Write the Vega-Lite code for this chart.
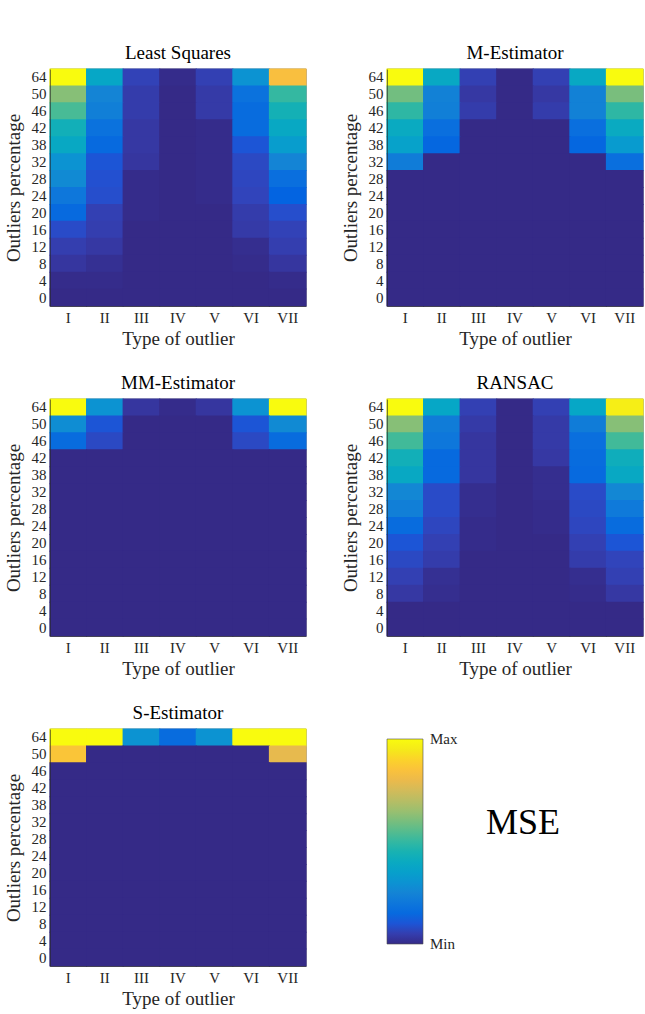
{
  "$schema": "https://vega.github.io/schema/vega-lite/v6.json",
  "background": "white",
  "padding": {"left": 3, "top": 44, "right": 0, "bottom": 0},
  "data": {
    "values": [
      {"m": "Least Squares", "p": 64, "t": "I", "v": 1},
      {"m": "Least Squares", "p": 64, "t": "II", "v": 0.38},
      {"m": "Least Squares", "p": 64, "t": "III", "v": 0.06},
      {"m": "Least Squares", "p": 64, "t": "IV", "v": 0.005},
      {"m": "Least Squares", "p": 64, "t": "V", "v": 0.055},
      {"m": "Least Squares", "p": 64, "t": "VI", "v": 0.3},
      {"m": "Least Squares", "p": 64, "t": "VII", "v": 0.84},
      {"m": "Least Squares", "p": 50, "t": "I", "v": 0.62},
      {"m": "Least Squares", "p": 50, "t": "II", "v": 0.25},
      {"m": "Least Squares", "p": 50, "t": "III", "v": 0.045},
      {"m": "Least Squares", "p": 50, "t": "IV", "v": 0},
      {"m": "Least Squares", "p": 50, "t": "V", "v": 0.04},
      {"m": "Least Squares", "p": 50, "t": "VI", "v": 0.18},
      {"m": "Least Squares", "p": 50, "t": "VII", "v": 0.5},
      {"m": "Least Squares", "p": 46, "t": "I", "v": 0.53},
      {"m": "Least Squares", "p": 46, "t": "II", "v": 0.23},
      {"m": "Least Squares", "p": 46, "t": "III", "v": 0.045},
      {"m": "Least Squares", "p": 46, "t": "IV", "v": 0},
      {"m": "Least Squares", "p": 46, "t": "V", "v": 0.04},
      {"m": "Least Squares", "p": 46, "t": "VI", "v": 0.16},
      {"m": "Least Squares", "p": 46, "t": "VII", "v": 0.44},
      {"m": "Least Squares", "p": 42, "t": "I", "v": 0.43},
      {"m": "Least Squares", "p": 42, "t": "II", "v": 0.18},
      {"m": "Least Squares", "p": 42, "t": "III", "v": 0.035},
      {"m": "Least Squares", "p": 42, "t": "IV", "v": 0},
      {"m": "Least Squares", "p": 42, "t": "V", "v": 0.005},
      {"m": "Least Squares", "p": 42, "t": "VI", "v": 0.16},
      {"m": "Least Squares", "p": 42, "t": "VII", "v": 0.39},
      {"m": "Least Squares", "p": 38, "t": "I", "v": 0.39},
      {"m": "Least Squares", "p": 38, "t": "II", "v": 0.15},
      {"m": "Least Squares", "p": 38, "t": "III", "v": 0.035},
      {"m": "Least Squares", "p": 38, "t": "IV", "v": 0},
      {"m": "Least Squares", "p": 38, "t": "V", "v": 0.005},
      {"m": "Least Squares", "p": 38, "t": "VI", "v": 0.1},
      {"m": "Least Squares", "p": 38, "t": "VII", "v": 0.34},
      {"m": "Least Squares", "p": 32, "t": "I", "v": 0.3},
      {"m": "Least Squares", "p": 32, "t": "II", "v": 0.1},
      {"m": "Least Squares", "p": 32, "t": "III", "v": 0.03},
      {"m": "Least Squares", "p": 32, "t": "IV", "v": 0},
      {"m": "Least Squares", "p": 32, "t": "V", "v": 0.005},
      {"m": "Least Squares", "p": 32, "t": "VI", "v": 0.075},
      {"m": "Least Squares", "p": 32, "t": "VII", "v": 0.25},
      {"m": "Least Squares", "p": 28, "t": "I", "v": 0.27},
      {"m": "Least Squares", "p": 28, "t": "II", "v": 0.09},
      {"m": "Least Squares", "p": 28, "t": "III", "v": 0.005},
      {"m": "Least Squares", "p": 28, "t": "IV", "v": 0},
      {"m": "Least Squares", "p": 28, "t": "V", "v": 0.005},
      {"m": "Least Squares", "p": 28, "t": "VI", "v": 0.07},
      {"m": "Least Squares", "p": 28, "t": "VII", "v": 0.17},
      {"m": "Least Squares", "p": 24, "t": "I", "v": 0.2},
      {"m": "Least Squares", "p": 24, "t": "II", "v": 0.085},
      {"m": "Least Squares", "p": 24, "t": "III", "v": 0.005},
      {"m": "Least Squares", "p": 24, "t": "IV", "v": 0},
      {"m": "Least Squares", "p": 24, "t": "V", "v": 0.005},
      {"m": "Least Squares", "p": 24, "t": "VI", "v": 0.065},
      {"m": "Least Squares", "p": 24, "t": "VII", "v": 0.13},
      {"m": "Least Squares", "p": 20, "t": "I", "v": 0.15},
      {"m": "Least Squares", "p": 20, "t": "II", "v": 0.055},
      {"m": "Least Squares", "p": 20, "t": "III", "v": 0.005},
      {"m": "Least Squares", "p": 20, "t": "IV", "v": 0},
      {"m": "Least Squares", "p": 20, "t": "V", "v": 0},
      {"m": "Least Squares", "p": 20, "t": "VI", "v": 0.045},
      {"m": "Least Squares", "p": 20, "t": "VII", "v": 0.085},
      {"m": "Least Squares", "p": 16, "t": "I", "v": 0.08},
      {"m": "Least Squares", "p": 16, "t": "II", "v": 0.05},
      {"m": "Least Squares", "p": 16, "t": "III", "v": 0},
      {"m": "Least Squares", "p": 16, "t": "IV", "v": 0},
      {"m": "Least Squares", "p": 16, "t": "V", "v": 0},
      {"m": "Least Squares", "p": 16, "t": "VI", "v": 0.04},
      {"m": "Least Squares", "p": 16, "t": "VII", "v": 0.06},
      {"m": "Least Squares", "p": 12, "t": "I", "v": 0.05},
      {"m": "Least Squares", "p": 12, "t": "II", "v": 0.035},
      {"m": "Least Squares", "p": 12, "t": "III", "v": 0},
      {"m": "Least Squares", "p": 12, "t": "IV", "v": 0},
      {"m": "Least Squares", "p": 12, "t": "V", "v": 0},
      {"m": "Least Squares", "p": 12, "t": "VI", "v": 0.01},
      {"m": "Least Squares", "p": 12, "t": "VII", "v": 0.05},
      {"m": "Least Squares", "p": 8, "t": "I", "v": 0.03},
      {"m": "Least Squares", "p": 8, "t": "II", "v": 0.015},
      {"m": "Least Squares", "p": 8, "t": "III", "v": 0},
      {"m": "Least Squares", "p": 8, "t": "IV", "v": 0},
      {"m": "Least Squares", "p": 8, "t": "V", "v": 0},
      {"m": "Least Squares", "p": 8, "t": "VI", "v": 0.005},
      {"m": "Least Squares", "p": 8, "t": "VII", "v": 0.03},
      {"m": "Least Squares", "p": 4, "t": "I", "v": 0.005},
      {"m": "Least Squares", "p": 4, "t": "II", "v": 0.005},
      {"m": "Least Squares", "p": 4, "t": "III", "v": 0},
      {"m": "Least Squares", "p": 4, "t": "IV", "v": 0},
      {"m": "Least Squares", "p": 4, "t": "V", "v": 0},
      {"m": "Least Squares", "p": 4, "t": "VI", "v": 0},
      {"m": "Least Squares", "p": 4, "t": "VII", "v": 0.005},
      {"m": "Least Squares", "p": 0, "t": "I", "v": 0},
      {"m": "Least Squares", "p": 0, "t": "II", "v": 0},
      {"m": "Least Squares", "p": 0, "t": "III", "v": 0},
      {"m": "Least Squares", "p": 0, "t": "IV", "v": 0},
      {"m": "Least Squares", "p": 0, "t": "V", "v": 0},
      {"m": "Least Squares", "p": 0, "t": "VI", "v": 0},
      {"m": "Least Squares", "p": 0, "t": "VII", "v": 0},

      {"m": "M-Estimator", "p": 64, "t": "I", "v": 1},
      {"m": "M-Estimator", "p": 64, "t": "II", "v": 0.39},
      {"m": "M-Estimator", "p": 64, "t": "III", "v": 0.055},
      {"m": "M-Estimator", "p": 64, "t": "IV", "v": 0},
      {"m": "M-Estimator", "p": 64, "t": "V", "v": 0.055},
      {"m": "M-Estimator", "p": 64, "t": "VI", "v": 0.39},
      {"m": "M-Estimator", "p": 64, "t": "VII", "v": 1},
      {"m": "M-Estimator", "p": 50, "t": "I", "v": 0.59},
      {"m": "M-Estimator", "p": 50, "t": "II", "v": 0.24},
      {"m": "M-Estimator", "p": 50, "t": "III", "v": 0.035},
      {"m": "M-Estimator", "p": 50, "t": "IV", "v": 0},
      {"m": "M-Estimator", "p": 50, "t": "V", "v": 0.035},
      {"m": "M-Estimator", "p": 50, "t": "VI", "v": 0.24},
      {"m": "M-Estimator", "p": 50, "t": "VII", "v": 0.6},
      {"m": "M-Estimator", "p": 46, "t": "I", "v": 0.49},
      {"m": "M-Estimator", "p": 46, "t": "II", "v": 0.23},
      {"m": "M-Estimator", "p": 46, "t": "III", "v": 0.045},
      {"m": "M-Estimator", "p": 46, "t": "IV", "v": 0},
      {"m": "M-Estimator", "p": 46, "t": "V", "v": 0.045},
      {"m": "M-Estimator", "p": 46, "t": "VI", "v": 0.24},
      {"m": "M-Estimator", "p": 46, "t": "VII", "v": 0.49},
      {"m": "M-Estimator", "p": 42, "t": "I", "v": 0.4},
      {"m": "M-Estimator", "p": 42, "t": "II", "v": 0.17},
      {"m": "M-Estimator", "p": 42, "t": "III", "v": 0},
      {"m": "M-Estimator", "p": 42, "t": "IV", "v": 0},
      {"m": "M-Estimator", "p": 42, "t": "V", "v": 0},
      {"m": "M-Estimator", "p": 42, "t": "VI", "v": 0.17},
      {"m": "M-Estimator", "p": 42, "t": "VII", "v": 0.4},
      {"m": "M-Estimator", "p": 38, "t": "I", "v": 0.36},
      {"m": "M-Estimator", "p": 38, "t": "II", "v": 0.14},
      {"m": "M-Estimator", "p": 38, "t": "III", "v": 0},
      {"m": "M-Estimator", "p": 38, "t": "IV", "v": 0},
      {"m": "M-Estimator", "p": 38, "t": "V", "v": 0},
      {"m": "M-Estimator", "p": 38, "t": "VI", "v": 0.14},
      {"m": "M-Estimator", "p": 38, "t": "VII", "v": 0.33},
      {"m": "M-Estimator", "p": 32, "t": "I", "v": 0.22},
      {"m": "M-Estimator", "p": 32, "t": "II", "v": 0},
      {"m": "M-Estimator", "p": 32, "t": "III", "v": 0},
      {"m": "M-Estimator", "p": 32, "t": "IV", "v": 0},
      {"m": "M-Estimator", "p": 32, "t": "V", "v": 0},
      {"m": "M-Estimator", "p": 32, "t": "VI", "v": 0},
      {"m": "M-Estimator", "p": 32, "t": "VII", "v": 0.17},
      {"m": "M-Estimator", "p": 28, "t": "I", "v": 0},
      {"m": "M-Estimator", "p": 28, "t": "II", "v": 0},
      {"m": "M-Estimator", "p": 28, "t": "III", "v": 0},
      {"m": "M-Estimator", "p": 28, "t": "IV", "v": 0},
      {"m": "M-Estimator", "p": 28, "t": "V", "v": 0},
      {"m": "M-Estimator", "p": 28, "t": "VI", "v": 0},
      {"m": "M-Estimator", "p": 28, "t": "VII", "v": 0},
      {"m": "M-Estimator", "p": 24, "t": "I", "v": 0},
      {"m": "M-Estimator", "p": 24, "t": "II", "v": 0},
      {"m": "M-Estimator", "p": 24, "t": "III", "v": 0},
      {"m": "M-Estimator", "p": 24, "t": "IV", "v": 0},
      {"m": "M-Estimator", "p": 24, "t": "V", "v": 0},
      {"m": "M-Estimator", "p": 24, "t": "VI", "v": 0},
      {"m": "M-Estimator", "p": 24, "t": "VII", "v": 0},
      {"m": "M-Estimator", "p": 20, "t": "I", "v": 0},
      {"m": "M-Estimator", "p": 20, "t": "II", "v": 0},
      {"m": "M-Estimator", "p": 20, "t": "III", "v": 0},
      {"m": "M-Estimator", "p": 20, "t": "IV", "v": 0},
      {"m": "M-Estimator", "p": 20, "t": "V", "v": 0},
      {"m": "M-Estimator", "p": 20, "t": "VI", "v": 0},
      {"m": "M-Estimator", "p": 20, "t": "VII", "v": 0},
      {"m": "M-Estimator", "p": 16, "t": "I", "v": 0},
      {"m": "M-Estimator", "p": 16, "t": "II", "v": 0},
      {"m": "M-Estimator", "p": 16, "t": "III", "v": 0},
      {"m": "M-Estimator", "p": 16, "t": "IV", "v": 0},
      {"m": "M-Estimator", "p": 16, "t": "V", "v": 0},
      {"m": "M-Estimator", "p": 16, "t": "VI", "v": 0},
      {"m": "M-Estimator", "p": 16, "t": "VII", "v": 0},
      {"m": "M-Estimator", "p": 12, "t": "I", "v": 0},
      {"m": "M-Estimator", "p": 12, "t": "II", "v": 0},
      {"m": "M-Estimator", "p": 12, "t": "III", "v": 0},
      {"m": "M-Estimator", "p": 12, "t": "IV", "v": 0},
      {"m": "M-Estimator", "p": 12, "t": "V", "v": 0},
      {"m": "M-Estimator", "p": 12, "t": "VI", "v": 0},
      {"m": "M-Estimator", "p": 12, "t": "VII", "v": 0},
      {"m": "M-Estimator", "p": 8, "t": "I", "v": 0},
      {"m": "M-Estimator", "p": 8, "t": "II", "v": 0},
      {"m": "M-Estimator", "p": 8, "t": "III", "v": 0},
      {"m": "M-Estimator", "p": 8, "t": "IV", "v": 0},
      {"m": "M-Estimator", "p": 8, "t": "V", "v": 0},
      {"m": "M-Estimator", "p": 8, "t": "VI", "v": 0},
      {"m": "M-Estimator", "p": 8, "t": "VII", "v": 0},
      {"m": "M-Estimator", "p": 4, "t": "I", "v": 0},
      {"m": "M-Estimator", "p": 4, "t": "II", "v": 0},
      {"m": "M-Estimator", "p": 4, "t": "III", "v": 0},
      {"m": "M-Estimator", "p": 4, "t": "IV", "v": 0},
      {"m": "M-Estimator", "p": 4, "t": "V", "v": 0},
      {"m": "M-Estimator", "p": 4, "t": "VI", "v": 0},
      {"m": "M-Estimator", "p": 4, "t": "VII", "v": 0},
      {"m": "M-Estimator", "p": 0, "t": "I", "v": 0},
      {"m": "M-Estimator", "p": 0, "t": "II", "v": 0},
      {"m": "M-Estimator", "p": 0, "t": "III", "v": 0},
      {"m": "M-Estimator", "p": 0, "t": "IV", "v": 0},
      {"m": "M-Estimator", "p": 0, "t": "V", "v": 0},
      {"m": "M-Estimator", "p": 0, "t": "VI", "v": 0},
      {"m": "M-Estimator", "p": 0, "t": "VII", "v": 0},

      {"m": "MM-Estimator", "p": 64, "t": "I", "v": 1},
      {"m": "MM-Estimator", "p": 64, "t": "II", "v": 0.3},
      {"m": "MM-Estimator", "p": 64, "t": "III", "v": 0.03},
      {"m": "MM-Estimator", "p": 64, "t": "IV", "v": 0.005},
      {"m": "MM-Estimator", "p": 64, "t": "V", "v": 0.03},
      {"m": "MM-Estimator", "p": 64, "t": "VI", "v": 0.3},
      {"m": "MM-Estimator", "p": 64, "t": "VII", "v": 1},
      {"m": "MM-Estimator", "p": 50, "t": "I", "v": 0.28},
      {"m": "MM-Estimator", "p": 50, "t": "II", "v": 0.1},
      {"m": "MM-Estimator", "p": 50, "t": "III", "v": 0},
      {"m": "MM-Estimator", "p": 50, "t": "IV", "v": 0},
      {"m": "MM-Estimator", "p": 50, "t": "V", "v": 0},
      {"m": "MM-Estimator", "p": 50, "t": "VI", "v": 0.1},
      {"m": "MM-Estimator", "p": 50, "t": "VII", "v": 0.27},
      {"m": "MM-Estimator", "p": 46, "t": "I", "v": 0.16},
      {"m": "MM-Estimator", "p": 46, "t": "II", "v": 0.075},
      {"m": "MM-Estimator", "p": 46, "t": "III", "v": 0},
      {"m": "MM-Estimator", "p": 46, "t": "IV", "v": 0},
      {"m": "MM-Estimator", "p": 46, "t": "V", "v": 0},
      {"m": "MM-Estimator", "p": 46, "t": "VI", "v": 0.075},
      {"m": "MM-Estimator", "p": 46, "t": "VII", "v": 0.16},
      {"m": "MM-Estimator", "p": 42, "t": "I", "v": 0},
      {"m": "MM-Estimator", "p": 42, "t": "II", "v": 0},
      {"m": "MM-Estimator", "p": 42, "t": "III", "v": 0},
      {"m": "MM-Estimator", "p": 42, "t": "IV", "v": 0},
      {"m": "MM-Estimator", "p": 42, "t": "V", "v": 0},
      {"m": "MM-Estimator", "p": 42, "t": "VI", "v": 0},
      {"m": "MM-Estimator", "p": 42, "t": "VII", "v": 0},
      {"m": "MM-Estimator", "p": 38, "t": "I", "v": 0},
      {"m": "MM-Estimator", "p": 38, "t": "II", "v": 0},
      {"m": "MM-Estimator", "p": 38, "t": "III", "v": 0},
      {"m": "MM-Estimator", "p": 38, "t": "IV", "v": 0},
      {"m": "MM-Estimator", "p": 38, "t": "V", "v": 0},
      {"m": "MM-Estimator", "p": 38, "t": "VI", "v": 0},
      {"m": "MM-Estimator", "p": 38, "t": "VII", "v": 0},
      {"m": "MM-Estimator", "p": 32, "t": "I", "v": 0},
      {"m": "MM-Estimator", "p": 32, "t": "II", "v": 0},
      {"m": "MM-Estimator", "p": 32, "t": "III", "v": 0},
      {"m": "MM-Estimator", "p": 32, "t": "IV", "v": 0},
      {"m": "MM-Estimator", "p": 32, "t": "V", "v": 0},
      {"m": "MM-Estimator", "p": 32, "t": "VI", "v": 0},
      {"m": "MM-Estimator", "p": 32, "t": "VII", "v": 0},
      {"m": "MM-Estimator", "p": 28, "t": "I", "v": 0},
      {"m": "MM-Estimator", "p": 28, "t": "II", "v": 0},
      {"m": "MM-Estimator", "p": 28, "t": "III", "v": 0},
      {"m": "MM-Estimator", "p": 28, "t": "IV", "v": 0},
      {"m": "MM-Estimator", "p": 28, "t": "V", "v": 0},
      {"m": "MM-Estimator", "p": 28, "t": "VI", "v": 0},
      {"m": "MM-Estimator", "p": 28, "t": "VII", "v": 0},
      {"m": "MM-Estimator", "p": 24, "t": "I", "v": 0},
      {"m": "MM-Estimator", "p": 24, "t": "II", "v": 0},
      {"m": "MM-Estimator", "p": 24, "t": "III", "v": 0},
      {"m": "MM-Estimator", "p": 24, "t": "IV", "v": 0},
      {"m": "MM-Estimator", "p": 24, "t": "V", "v": 0},
      {"m": "MM-Estimator", "p": 24, "t": "VI", "v": 0},
      {"m": "MM-Estimator", "p": 24, "t": "VII", "v": 0},
      {"m": "MM-Estimator", "p": 20, "t": "I", "v": 0},
      {"m": "MM-Estimator", "p": 20, "t": "II", "v": 0},
      {"m": "MM-Estimator", "p": 20, "t": "III", "v": 0},
      {"m": "MM-Estimator", "p": 20, "t": "IV", "v": 0},
      {"m": "MM-Estimator", "p": 20, "t": "V", "v": 0},
      {"m": "MM-Estimator", "p": 20, "t": "VI", "v": 0},
      {"m": "MM-Estimator", "p": 20, "t": "VII", "v": 0},
      {"m": "MM-Estimator", "p": 16, "t": "I", "v": 0},
      {"m": "MM-Estimator", "p": 16, "t": "II", "v": 0},
      {"m": "MM-Estimator", "p": 16, "t": "III", "v": 0},
      {"m": "MM-Estimator", "p": 16, "t": "IV", "v": 0},
      {"m": "MM-Estimator", "p": 16, "t": "V", "v": 0},
      {"m": "MM-Estimator", "p": 16, "t": "VI", "v": 0},
      {"m": "MM-Estimator", "p": 16, "t": "VII", "v": 0},
      {"m": "MM-Estimator", "p": 12, "t": "I", "v": 0},
      {"m": "MM-Estimator", "p": 12, "t": "II", "v": 0},
      {"m": "MM-Estimator", "p": 12, "t": "III", "v": 0},
      {"m": "MM-Estimator", "p": 12, "t": "IV", "v": 0},
      {"m": "MM-Estimator", "p": 12, "t": "V", "v": 0},
      {"m": "MM-Estimator", "p": 12, "t": "VI", "v": 0},
      {"m": "MM-Estimator", "p": 12, "t": "VII", "v": 0},
      {"m": "MM-Estimator", "p": 8, "t": "I", "v": 0},
      {"m": "MM-Estimator", "p": 8, "t": "II", "v": 0},
      {"m": "MM-Estimator", "p": 8, "t": "III", "v": 0},
      {"m": "MM-Estimator", "p": 8, "t": "IV", "v": 0},
      {"m": "MM-Estimator", "p": 8, "t": "V", "v": 0},
      {"m": "MM-Estimator", "p": 8, "t": "VI", "v": 0},
      {"m": "MM-Estimator", "p": 8, "t": "VII", "v": 0},
      {"m": "MM-Estimator", "p": 4, "t": "I", "v": 0},
      {"m": "MM-Estimator", "p": 4, "t": "II", "v": 0},
      {"m": "MM-Estimator", "p": 4, "t": "III", "v": 0},
      {"m": "MM-Estimator", "p": 4, "t": "IV", "v": 0},
      {"m": "MM-Estimator", "p": 4, "t": "V", "v": 0},
      {"m": "MM-Estimator", "p": 4, "t": "VI", "v": 0},
      {"m": "MM-Estimator", "p": 4, "t": "VII", "v": 0},
      {"m": "MM-Estimator", "p": 0, "t": "I", "v": 0},
      {"m": "MM-Estimator", "p": 0, "t": "II", "v": 0},
      {"m": "MM-Estimator", "p": 0, "t": "III", "v": 0},
      {"m": "MM-Estimator", "p": 0, "t": "IV", "v": 0},
      {"m": "MM-Estimator", "p": 0, "t": "V", "v": 0},
      {"m": "MM-Estimator", "p": 0, "t": "VI", "v": 0},
      {"m": "MM-Estimator", "p": 0, "t": "VII", "v": 0},

      {"m": "RANSAC", "p": 64, "t": "I", "v": 1},
      {"m": "RANSAC", "p": 64, "t": "II", "v": 0.38},
      {"m": "RANSAC", "p": 64, "t": "III", "v": 0.055},
      {"m": "RANSAC", "p": 64, "t": "IV", "v": 0},
      {"m": "RANSAC", "p": 64, "t": "V", "v": 0.055},
      {"m": "RANSAC", "p": 64, "t": "VI", "v": 0.38},
      {"m": "RANSAC", "p": 64, "t": "VII", "v": 0.96},
      {"m": "RANSAC", "p": 50, "t": "I", "v": 0.62},
      {"m": "RANSAC", "p": 50, "t": "II", "v": 0.22},
      {"m": "RANSAC", "p": 50, "t": "III", "v": 0.04},
      {"m": "RANSAC", "p": 50, "t": "IV", "v": 0},
      {"m": "RANSAC", "p": 50, "t": "V", "v": 0.04},
      {"m": "RANSAC", "p": 50, "t": "VI", "v": 0.22},
      {"m": "RANSAC", "p": 50, "t": "VII", "v": 0.62},
      {"m": "RANSAC", "p": 46, "t": "I", "v": 0.52},
      {"m": "RANSAC", "p": 46, "t": "II", "v": 0.2},
      {"m": "RANSAC", "p": 46, "t": "III", "v": 0.03},
      {"m": "RANSAC", "p": 46, "t": "IV", "v": 0},
      {"m": "RANSAC", "p": 46, "t": "V", "v": 0.04},
      {"m": "RANSAC", "p": 46, "t": "VI", "v": 0.17},
      {"m": "RANSAC", "p": 46, "t": "VII", "v": 0.52},
      {"m": "RANSAC", "p": 42, "t": "I", "v": 0.43},
      {"m": "RANSAC", "p": 42, "t": "II", "v": 0.15},
      {"m": "RANSAC", "p": 42, "t": "III", "v": 0.03},
      {"m": "RANSAC", "p": 42, "t": "IV", "v": 0},
      {"m": "RANSAC", "p": 42, "t": "V", "v": 0.035},
      {"m": "RANSAC", "p": 42, "t": "VI", "v": 0.16},
      {"m": "RANSAC", "p": 42, "t": "VII", "v": 0.42},
      {"m": "RANSAC", "p": 38, "t": "I", "v": 0.39},
      {"m": "RANSAC", "p": 38, "t": "II", "v": 0.15},
      {"m": "RANSAC", "p": 38, "t": "III", "v": 0.03},
      {"m": "RANSAC", "p": 38, "t": "IV", "v": 0},
      {"m": "RANSAC", "p": 38, "t": "V", "v": 0.01},
      {"m": "RANSAC", "p": 38, "t": "VI", "v": 0.15},
      {"m": "RANSAC", "p": 38, "t": "VII", "v": 0.39},
      {"m": "RANSAC", "p": 32, "t": "I", "v": 0.26},
      {"m": "RANSAC", "p": 32, "t": "II", "v": 0.08},
      {"m": "RANSAC", "p": 32, "t": "III", "v": 0.01},
      {"m": "RANSAC", "p": 32, "t": "IV", "v": 0},
      {"m": "RANSAC", "p": 32, "t": "V", "v": 0.01},
      {"m": "RANSAC", "p": 32, "t": "VI", "v": 0.08},
      {"m": "RANSAC", "p": 32, "t": "VII", "v": 0.26},
      {"m": "RANSAC", "p": 28, "t": "I", "v": 0.23},
      {"m": "RANSAC", "p": 28, "t": "II", "v": 0.08},
      {"m": "RANSAC", "p": 28, "t": "III", "v": 0.01},
      {"m": "RANSAC", "p": 28, "t": "IV", "v": 0},
      {"m": "RANSAC", "p": 28, "t": "V", "v": 0.005},
      {"m": "RANSAC", "p": 28, "t": "VI", "v": 0.075},
      {"m": "RANSAC", "p": 28, "t": "VII", "v": 0.21},
      {"m": "RANSAC", "p": 24, "t": "I", "v": 0.16},
      {"m": "RANSAC", "p": 24, "t": "II", "v": 0.07},
      {"m": "RANSAC", "p": 24, "t": "III", "v": 0.005},
      {"m": "RANSAC", "p": 24, "t": "IV", "v": 0},
      {"m": "RANSAC", "p": 24, "t": "V", "v": 0.005},
      {"m": "RANSAC", "p": 24, "t": "VI", "v": 0.07},
      {"m": "RANSAC", "p": 24, "t": "VII", "v": 0.16},
      {"m": "RANSAC", "p": 20, "t": "I", "v": 0.1},
      {"m": "RANSAC", "p": 20, "t": "II", "v": 0.055},
      {"m": "RANSAC", "p": 20, "t": "III", "v": 0.005},
      {"m": "RANSAC", "p": 20, "t": "IV", "v": 0},
      {"m": "RANSAC", "p": 20, "t": "V", "v": 0},
      {"m": "RANSAC", "p": 20, "t": "VI", "v": 0.055},
      {"m": "RANSAC", "p": 20, "t": "VII", "v": 0.1},
      {"m": "RANSAC", "p": 16, "t": "I", "v": 0.075},
      {"m": "RANSAC", "p": 16, "t": "II", "v": 0.045},
      {"m": "RANSAC", "p": 16, "t": "III", "v": 0},
      {"m": "RANSAC", "p": 16, "t": "IV", "v": 0},
      {"m": "RANSAC", "p": 16, "t": "V", "v": 0},
      {"m": "RANSAC", "p": 16, "t": "VI", "v": 0.045},
      {"m": "RANSAC", "p": 16, "t": "VII", "v": 0.065},
      {"m": "RANSAC", "p": 12, "t": "I", "v": 0.055},
      {"m": "RANSAC", "p": 12, "t": "II", "v": 0.015},
      {"m": "RANSAC", "p": 12, "t": "III", "v": 0},
      {"m": "RANSAC", "p": 12, "t": "IV", "v": 0},
      {"m": "RANSAC", "p": 12, "t": "V", "v": 0},
      {"m": "RANSAC", "p": 12, "t": "VI", "v": 0.01},
      {"m": "RANSAC", "p": 12, "t": "VII", "v": 0.055},
      {"m": "RANSAC", "p": 8, "t": "I", "v": 0.035},
      {"m": "RANSAC", "p": 8, "t": "II", "v": 0.01},
      {"m": "RANSAC", "p": 8, "t": "III", "v": 0},
      {"m": "RANSAC", "p": 8, "t": "IV", "v": 0},
      {"m": "RANSAC", "p": 8, "t": "V", "v": 0},
      {"m": "RANSAC", "p": 8, "t": "VI", "v": 0.005},
      {"m": "RANSAC", "p": 8, "t": "VII", "v": 0.035},
      {"m": "RANSAC", "p": 4, "t": "I", "v": 0},
      {"m": "RANSAC", "p": 4, "t": "II", "v": 0},
      {"m": "RANSAC", "p": 4, "t": "III", "v": 0},
      {"m": "RANSAC", "p": 4, "t": "IV", "v": 0},
      {"m": "RANSAC", "p": 4, "t": "V", "v": 0},
      {"m": "RANSAC", "p": 4, "t": "VI", "v": 0},
      {"m": "RANSAC", "p": 4, "t": "VII", "v": 0},
      {"m": "RANSAC", "p": 0, "t": "I", "v": 0},
      {"m": "RANSAC", "p": 0, "t": "II", "v": 0},
      {"m": "RANSAC", "p": 0, "t": "III", "v": 0},
      {"m": "RANSAC", "p": 0, "t": "IV", "v": 0},
      {"m": "RANSAC", "p": 0, "t": "V", "v": 0},
      {"m": "RANSAC", "p": 0, "t": "VI", "v": 0},
      {"m": "RANSAC", "p": 0, "t": "VII", "v": 0},

      {"m": "S-Estimator", "p": 64, "t": "I", "v": 1},
      {"m": "S-Estimator", "p": 64, "t": "II", "v": 1},
      {"m": "S-Estimator", "p": 64, "t": "III", "v": 0.3},
      {"m": "S-Estimator", "p": 64, "t": "IV", "v": 0.16},
      {"m": "S-Estimator", "p": 64, "t": "V", "v": 0.3},
      {"m": "S-Estimator", "p": 64, "t": "VI", "v": 1},
      {"m": "S-Estimator", "p": 64, "t": "VII", "v": 1},
      {"m": "S-Estimator", "p": 50, "t": "I", "v": 0.86},
      {"m": "S-Estimator", "p": 50, "t": "II", "v": 0},
      {"m": "S-Estimator", "p": 50, "t": "III", "v": 0},
      {"m": "S-Estimator", "p": 50, "t": "IV", "v": 0},
      {"m": "S-Estimator", "p": 50, "t": "V", "v": 0},
      {"m": "S-Estimator", "p": 50, "t": "VI", "v": 0},
      {"m": "S-Estimator", "p": 50, "t": "VII", "v": 0.79},
      {"m": "S-Estimator", "p": 46, "t": "I", "v": 0},
      {"m": "S-Estimator", "p": 46, "t": "II", "v": 0},
      {"m": "S-Estimator", "p": 46, "t": "III", "v": 0},
      {"m": "S-Estimator", "p": 46, "t": "IV", "v": 0},
      {"m": "S-Estimator", "p": 46, "t": "V", "v": 0},
      {"m": "S-Estimator", "p": 46, "t": "VI", "v": 0},
      {"m": "S-Estimator", "p": 46, "t": "VII", "v": 0},
      {"m": "S-Estimator", "p": 42, "t": "I", "v": 0},
      {"m": "S-Estimator", "p": 42, "t": "II", "v": 0},
      {"m": "S-Estimator", "p": 42, "t": "III", "v": 0},
      {"m": "S-Estimator", "p": 42, "t": "IV", "v": 0},
      {"m": "S-Estimator", "p": 42, "t": "V", "v": 0},
      {"m": "S-Estimator", "p": 42, "t": "VI", "v": 0},
      {"m": "S-Estimator", "p": 42, "t": "VII", "v": 0},
      {"m": "S-Estimator", "p": 38, "t": "I", "v": 0},
      {"m": "S-Estimator", "p": 38, "t": "II", "v": 0},
      {"m": "S-Estimator", "p": 38, "t": "III", "v": 0},
      {"m": "S-Estimator", "p": 38, "t": "IV", "v": 0},
      {"m": "S-Estimator", "p": 38, "t": "V", "v": 0},
      {"m": "S-Estimator", "p": 38, "t": "VI", "v": 0},
      {"m": "S-Estimator", "p": 38, "t": "VII", "v": 0},
      {"m": "S-Estimator", "p": 32, "t": "I", "v": 0},
      {"m": "S-Estimator", "p": 32, "t": "II", "v": 0},
      {"m": "S-Estimator", "p": 32, "t": "III", "v": 0},
      {"m": "S-Estimator", "p": 32, "t": "IV", "v": 0},
      {"m": "S-Estimator", "p": 32, "t": "V", "v": 0},
      {"m": "S-Estimator", "p": 32, "t": "VI", "v": 0},
      {"m": "S-Estimator", "p": 32, "t": "VII", "v": 0},
      {"m": "S-Estimator", "p": 28, "t": "I", "v": 0},
      {"m": "S-Estimator", "p": 28, "t": "II", "v": 0},
      {"m": "S-Estimator", "p": 28, "t": "III", "v": 0},
      {"m": "S-Estimator", "p": 28, "t": "IV", "v": 0},
      {"m": "S-Estimator", "p": 28, "t": "V", "v": 0},
      {"m": "S-Estimator", "p": 28, "t": "VI", "v": 0},
      {"m": "S-Estimator", "p": 28, "t": "VII", "v": 0},
      {"m": "S-Estimator", "p": 24, "t": "I", "v": 0},
      {"m": "S-Estimator", "p": 24, "t": "II", "v": 0},
      {"m": "S-Estimator", "p": 24, "t": "III", "v": 0},
      {"m": "S-Estimator", "p": 24, "t": "IV", "v": 0},
      {"m": "S-Estimator", "p": 24, "t": "V", "v": 0},
      {"m": "S-Estimator", "p": 24, "t": "VI", "v": 0},
      {"m": "S-Estimator", "p": 24, "t": "VII", "v": 0},
      {"m": "S-Estimator", "p": 20, "t": "I", "v": 0},
      {"m": "S-Estimator", "p": 20, "t": "II", "v": 0},
      {"m": "S-Estimator", "p": 20, "t": "III", "v": 0},
      {"m": "S-Estimator", "p": 20, "t": "IV", "v": 0},
      {"m": "S-Estimator", "p": 20, "t": "V", "v": 0},
      {"m": "S-Estimator", "p": 20, "t": "VI", "v": 0},
      {"m": "S-Estimator", "p": 20, "t": "VII", "v": 0},
      {"m": "S-Estimator", "p": 16, "t": "I", "v": 0},
      {"m": "S-Estimator", "p": 16, "t": "II", "v": 0},
      {"m": "S-Estimator", "p": 16, "t": "III", "v": 0},
      {"m": "S-Estimator", "p": 16, "t": "IV", "v": 0},
      {"m": "S-Estimator", "p": 16, "t": "V", "v": 0},
      {"m": "S-Estimator", "p": 16, "t": "VI", "v": 0},
      {"m": "S-Estimator", "p": 16, "t": "VII", "v": 0},
      {"m": "S-Estimator", "p": 12, "t": "I", "v": 0},
      {"m": "S-Estimator", "p": 12, "t": "II", "v": 0},
      {"m": "S-Estimator", "p": 12, "t": "III", "v": 0},
      {"m": "S-Estimator", "p": 12, "t": "IV", "v": 0},
      {"m": "S-Estimator", "p": 12, "t": "V", "v": 0},
      {"m": "S-Estimator", "p": 12, "t": "VI", "v": 0},
      {"m": "S-Estimator", "p": 12, "t": "VII", "v": 0},
      {"m": "S-Estimator", "p": 8, "t": "I", "v": 0},
      {"m": "S-Estimator", "p": 8, "t": "II", "v": 0},
      {"m": "S-Estimator", "p": 8, "t": "III", "v": 0},
      {"m": "S-Estimator", "p": 8, "t": "IV", "v": 0},
      {"m": "S-Estimator", "p": 8, "t": "V", "v": 0},
      {"m": "S-Estimator", "p": 8, "t": "VI", "v": 0},
      {"m": "S-Estimator", "p": 8, "t": "VII", "v": 0},
      {"m": "S-Estimator", "p": 4, "t": "I", "v": 0},
      {"m": "S-Estimator", "p": 4, "t": "II", "v": 0},
      {"m": "S-Estimator", "p": 4, "t": "III", "v": 0},
      {"m": "S-Estimator", "p": 4, "t": "IV", "v": 0},
      {"m": "S-Estimator", "p": 4, "t": "V", "v": 0},
      {"m": "S-Estimator", "p": 4, "t": "VI", "v": 0},
      {"m": "S-Estimator", "p": 4, "t": "VII", "v": 0},
      {"m": "S-Estimator", "p": 0, "t": "I", "v": 0},
      {"m": "S-Estimator", "p": 0, "t": "II", "v": 0},
      {"m": "S-Estimator", "p": 0, "t": "III", "v": 0},
      {"m": "S-Estimator", "p": 0, "t": "IV", "v": 0},
      {"m": "S-Estimator", "p": 0, "t": "V", "v": 0},
      {"m": "S-Estimator", "p": 0, "t": "VI", "v": 0},
      {"m": "S-Estimator", "p": 0, "t": "VII", "v": 0}
    ]
  },
  "columns": 2,
  "spacing": {"row": 25, "column": 33},
  "facet": {
    "field": "m",
    "type": "nominal",
    "sort": ["Least Squares", "M-Estimator", "MM-Estimator", "RANSAC", "S-Estimator"],
    "header": {
      "title": null,
      "labelFont": "Liberation Serif",
      "labelFontSize": 19,
      "labelFontWeight": "normal",
      "labelColor": "#000000",
      "labelPadding": 5
    }
  },
  "spec": {
    "width": 256,
    "height": 237,
    "mark": {"type": "rect", "width": {"band": 1.03}, "height": {"band": 1.06}},
    "encoding": {
      "x": {
        "field": "t",
        "type": "ordinal",
        "sort": ["I", "II", "III", "IV", "V", "VI", "VII"],
        "title": "Type of outlier",
        "axis": {"labelAngle": 0, "grid": false}
      },
      "y": {
        "field": "p",
        "type": "ordinal",
        "sort": "descending",
        "title": "Outliers percentage",
        "axis": {"grid": false}
      },
      "color": {
        "field": "v",
        "type": "quantitative",
        "scale": {
          "domain": [0, 0.0317, 0.0635, 0.0952, 0.127, 0.1905, 0.254, 0.3175, 0.381, 0.4444, 0.5079, 0.5714, 0.6349, 0.6984, 0.7619, 0.8254, 0.8889, 0.9524, 1],
          "range": ["#352a87", "#3637a0", "#3243ba", "#2053d4", "#0363e1", "#0d75dc", "#1485d4", "#0998d1", "#06a7c6", "#15b1b4", "#38b99e", "#65be86", "#92bf73", "#b7bd64", "#d9ba56", "#f8ba44", "#fcce2e", "#f5eb18", "#f9fb0e"],
          "interpolate": "rgb"
        },
        "legend": {
          "type": "gradient",
          "orient": "none",
          "legendX": 337,
          "legendY": 670,
          "direction": "vertical",
          "gradientLength": 205,
          "gradientThickness": 36,
          "gradientStrokeColor": "#4d4d4d",
          "gradientStrokeWidth": 0.6,
          "values": [0, 1],
          "labelExpr": "datum.value >= 1 ? 'Max' : 'Min'",
          "labelFont": "Liberation Serif",
          "labelFontSize": 15,
          "labelColor": "#262626",
          "labelOffset": 7,
          "title": "MSE",
          "titleOrient": "right",
          "titleAnchor": "middle",
          "titleFont": "Liberation Serif",
          "titleFontSize": 36,
          "titleFontWeight": "normal",
          "titleColor": "#000000",
          "titlePadding": 29,
          "encoding": {
            "labels": {"baseline": {"value": "middle"}},
            "title": {"angle": {"value": 0}, "align": {"value": "left"}, "baseline": {"value": "middle"}, "dy": {"value": -19}}
          }
        }
      }
    }
  },
  "resolve": {"axis": {"x": "independent", "y": "independent"}},
  "config": {
    "view": {"stroke": "#262626", "strokeWidth": 0.6, "fill": "#352a87"},
    "axis": {
      "labelFont": "Liberation Serif",
      "labelFontSize": 15,
      "labelColor": "#262626",
      "titleFont": "Liberation Serif",
      "titleFontSize": 19,
      "titleFontWeight": "normal",
      "titleColor": "#262626",
      "domainColor": "#262626",
      "domainWidth": 0.6,
      "ticks": false,
      "labelPadding": 4,
      "grid": false
    },
    "axisX": {"titlePadding": 4},
    "axisY": {"titlePadding": 8}
  }
}
